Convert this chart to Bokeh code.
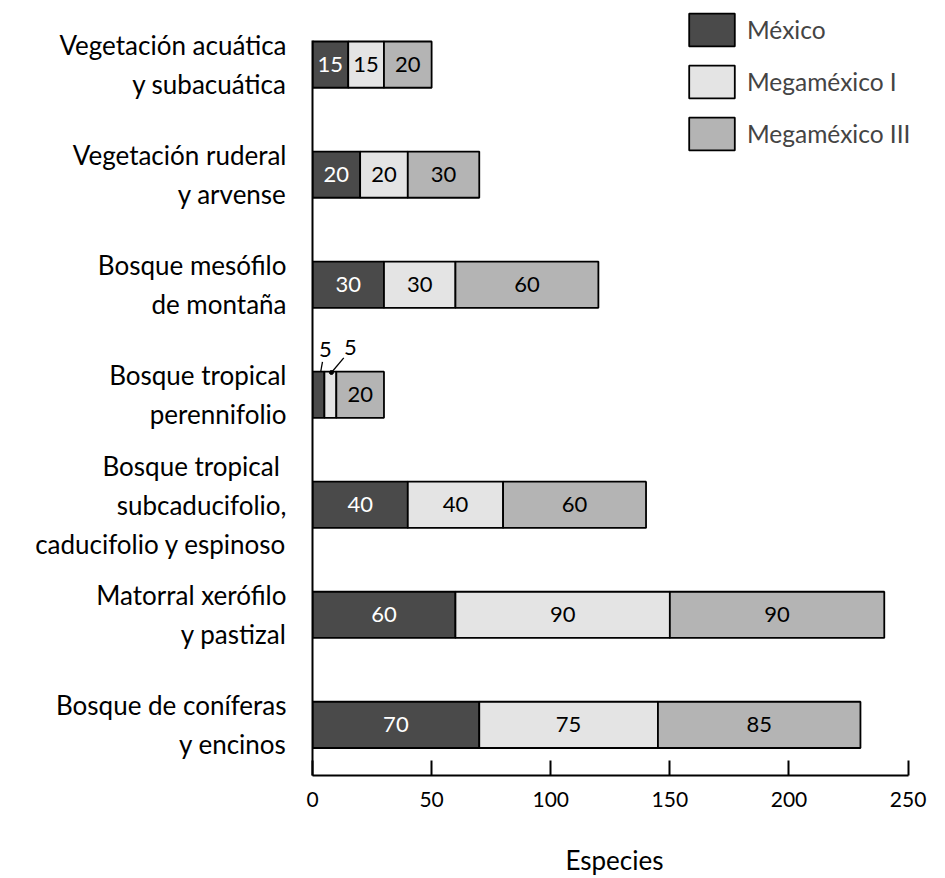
from bokeh.plotting import figure
from bokeh.models import ColumnDataSource, Range1d, Legend, LegendItem, FixedTicker
from bokeh.core.properties import value
from bokeh.embed import file_html
from bokeh.resources import INLINE

# ---------------- data ----------------
categories = [
    "Vegetación acuática\ny subacuática",
    "Vegetación ruderal\ny arvense",
    "Bosque mesófilo\nde montaña",
    "Bosque tropical\nperennifolio",
    "Bosque tropical \nsubcaducifolio,\ncaducifolio y espinoso",
    "Matorral xerófilo\ny pastizal",
    "Bosque de coníferas\ny encinos",
]
mexico = [15, 20, 30, 5, 40, 60, 70]
mega1 = [15, 20, 30, 5, 40, 90, 75]
mega3 = [20, 30, 60, 20, 60, 90, 85]
series_names = ["México", "Megaméxico I", "Megaméxico III"]
x_ticks = [0, 50, 100, 150, 200, 250]
axis_title = "Especies"

# ---------------- style ----------------
FONT = "Lato"
colors = ["#4a4a4a", "#e4e4e4", "#b4b4b4"]
text_colors = ["white", "black", "black"]
BAR_H = 0.42
W, H = 945, 878
BL, BR, BT, BB = 312, 29, 8, 101
X0, AXIS_RIGHT = 0, 250
px_x = 595.6 / 250
X1 = X0 + (W - BL - BR) / px_x
Y0 = -0.46
AXIS_TOP = 6.22
px_y = 110.33
Y1 = Y0 + (H - BT - BB) / px_y

n = len(categories)
ypos = [n - 1 - i for i in range(n)]

p = figure(width=W, height=H, output_backend="svg", toolbar_location=None,
           x_range=Range1d(X0, X1), y_range=Range1d(Y0, Y1),
           min_border_left=BL, min_border_right=BR, min_border_top=BT, min_border_bottom=BB)
p.outline_line_color = None
p.grid.visible = False
p.background_fill_color = "white"
p.border_fill_color = "white"

series = [mexico, mega1, mega3]
lefts = [0] * n
renderers = []
inside_x, inside_y, inside_t, inside_c = [], [], [], []
small = []
for k, vals in enumerate(series):
    rights = [l + v for l, v in zip(lefts, vals)]
    src = ColumnDataSource(dict(y=ypos, left=lefts, right=rights))
    r = p.hbar(y="y", left="left", right="right", height=BAR_H, source=src,
               fill_color=colors[k], line_color="black", line_width=1.8)
    renderers.append(r)
    for i in range(n):
        c = (lefts[i] + rights[i]) / 2
        if vals[i] >= 10:
            inside_x.append(c); inside_y.append(ypos[i])
            inside_t.append(str(vals[i])); inside_c.append(text_colors[k])
        else:
            small.append((c, ypos[i], str(vals[i]), k))
    lefts = rights

lab_src = ColumnDataSource(dict(x=inside_x, y=inside_y, t=inside_t, c=inside_c))
p.text(x="x", y="y", text="t", text_color="c", source=lab_src,
       text_align="center", text_baseline="middle",
       text_font=value(FONT), text_font_size="22px")

# small values labelled above the bar with leader lines
# (label offset, leader start, leader end) in pixels relative to the segment centre, up = positive
leader = {0: ((7, 45), (4, 33), (2.3, 23.3)), 1: ((20, 47), (13.4, 37), (1.1, 22.3))}
for c, y, t, k in small:
    (lx, ly), (sx, sy), (ex, ey) = leader[k]
    p.text(x=[c + lx / px_x], y=[y + ly / px_y], text=[t], text_align="center",
           text_baseline="middle", text_font=value(FONT), text_font_size="22px",
           text_color="black")
    p.segment(x0=[c + sx / px_x], y0=[y + sy / px_y], x1=[c + ex / px_x], y1=[y + ey / px_y],
              line_color="black", line_width=1.3)
    if k == 1:
        p.scatter(x=[c + ex / px_x], y=[y + ey / px_y], size=4, color="black")

# axes
p.xaxis.ticker = FixedTicker(ticks=x_ticks)
p.xaxis.bounds = (X0, AXIS_RIGHT)
p.xaxis.major_tick_in = 15
p.xaxis.major_tick_out = 0
p.xaxis.minor_tick_line_color = None
p.xaxis.axis_line_width = 2
p.xaxis.major_tick_line_width = 2
p.xaxis.major_label_text_font = FONT
p.xaxis.major_label_text_font_size = "21px"
p.xaxis.major_label_text_color = "black"
p.xaxis.major_label_standoff = 16
p.xaxis.axis_line_color = "black"
p.xaxis.major_tick_line_color = "black"
p.xaxis.axis_label = axis_title
p.xaxis.axis_label_text_font = FONT
p.xaxis.axis_label_text_font_size = "26px"
p.xaxis.axis_label_text_font_style = "normal"
p.xaxis.axis_label_text_color = "black"
p.xaxis.axis_label_standoff = 34

p.yaxis.ticker = FixedTicker(ticks=ypos)
p.yaxis.major_label_overrides = {y: c for y, c in zip(ypos, categories)}
p.yaxis.bounds = (Y0, AXIS_TOP)
p.yaxis.minor_tick_line_color = None
p.yaxis.major_tick_line_color = None
p.yaxis.major_tick_in = 0
p.yaxis.major_tick_out = 0
p.yaxis.major_label_standoff = 26
p.yaxis.major_label_text_font = FONT
p.yaxis.major_label_text_font_size = "26px"
p.yaxis.major_label_text_line_height = 1.22
p.yaxis.major_label_text_color = "black"
p.yaxis.major_label_text_align = "right"
p.yaxis.axis_line_width = 2
p.yaxis.axis_line_color = "black"

legend = Legend(items=[LegendItem(label=s, renderers=[r]) for s, r in zip(series_names, renderers)],
                location=(371, 621), glyph_width=57, glyph_height=41,
                label_text_font=FONT, label_text_font_size="24.5px",
                spacing=11, padding=0, margin=0, label_standoff=7,
                border_line_color=None, background_fill_alpha=0)
p.add_layout(legend)

open("out.html", "w").write(file_html(p, INLINE))
